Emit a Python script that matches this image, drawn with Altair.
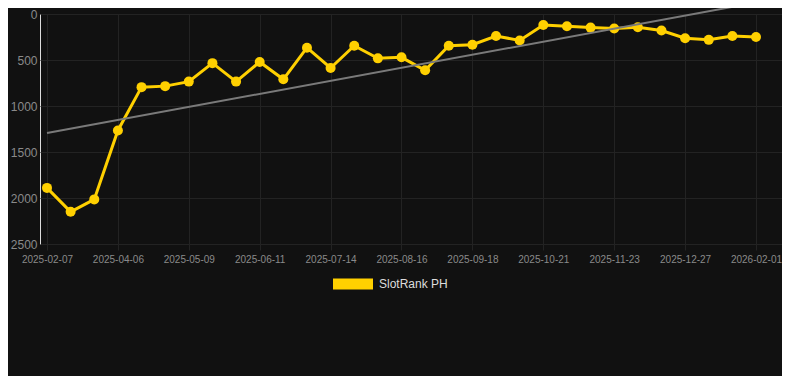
import altair as alt
import pandas as pd

dates = [
    "2025-02-07", "2025-02-26", "2025-03-17", "2025-04-06", "2025-04-17", "2025-04-28",
    "2025-05-09", "2025-05-20", "2025-05-31", "2025-06-11", "2025-06-22", "2025-07-03",
    "2025-07-14", "2025-07-25", "2025-08-05", "2025-08-16", "2025-08-27", "2025-09-07",
    "2025-09-18", "2025-09-29", "2025-10-10", "2025-10-21", "2025-11-01", "2025-11-12",
    "2025-11-23", "2025-12-04", "2025-12-15", "2025-12-27", "2026-01-08", "2026-01-20",
    "2026-02-01",
]
ranks = [
    1890, 2150, 2015, 1266, 795, 784, 735, 534, 735, 521, 710, 366, 587, 345, 482, 471,
    612, 345, 334, 239, 288, 119, 134, 148, 158, 144, 179, 264, 281, 239, 250,
]
series_name = "SlotRank PH"
tick_idx = list(range(0, len(dates), 3))
y_ticks = [0, 500, 1000, 1500, 2000, 2500]

df = pd.DataFrame({
    "idx": list(range(len(dates))),
    "date": dates,
    "rank": ranks,
    "series": [series_name] * len(dates),
})

label_expr = "[" + ",".join(f"'{d}'" for d in dates) + "][datum.value]"

x_enc = alt.X(
    "idx:Q",
    scale=alt.Scale(domain=[-0.296, 31.1], nice=False, zero=False),
    axis=alt.Axis(
        values=tick_idx, labelExpr=label_expr, title=None, grid=True,
        gridColor="#232323", domain=False, tickColor="#232323", tickSize=6,
        labelColor="#8a8a8a", labelFontSize=10, labelPadding=4, labelFlush=False,
    ),
)
y_enc = alt.Y(
    "rank:Q",
    scale=alt.Scale(domain=[0, 2500], reverse=True, nice=False),
    axis=alt.Axis(
        values=y_ticks, format="d", title=None, grid=True,
        gridColor="#232323", domain=False, ticks=False, labelColor="#8a8a8a",
        labelFontSize=12, labelPadding=3,
    ),
)

base = alt.Chart(df)

trend = base.transform_regression("idx", "rank").mark_line(
    color="#7a7a7a", strokeWidth=2, clip=False
).encode(x=x_enc, y="rank:Q")

line = base.mark_line(strokeWidth=3).encode(
    x=x_enc,
    y=y_enc,
    color=alt.Color(
        "series:N",
        scale=alt.Scale(range=["#FFD000"]),
        legend=alt.Legend(
            title=None, orient="none", legendX=293, legendY=250,
            symbolType="M-1,-0.275L1,-0.275L1,0.275L-1,0.275Z",
            symbolSize=1600, symbolStrokeWidth=0, symbolFillColor="#FFD000",
            labelColor="#dddddd", labelFontSize=12, labelOffset=6,
        ),
    ),
)
pts = base.mark_circle(size=100, opacity=1).encode(
    x=x_enc, y=y_enc, color=alt.Color("series:N", legend=None)
)

chart = alt.layer(line, pts, trend).properties(
    width=742, height=230,
    autosize=alt.AutoSizeParams(type="none"),
    padding={"left": 32, "top": 6, "right": 0, "bottom": 132},
    background="#111111",
).configure_view(stroke=None).configure(
    font="Liberation Sans"
)

chart.save("out.html", embed_options={"renderer": "svg", "actions": False})
